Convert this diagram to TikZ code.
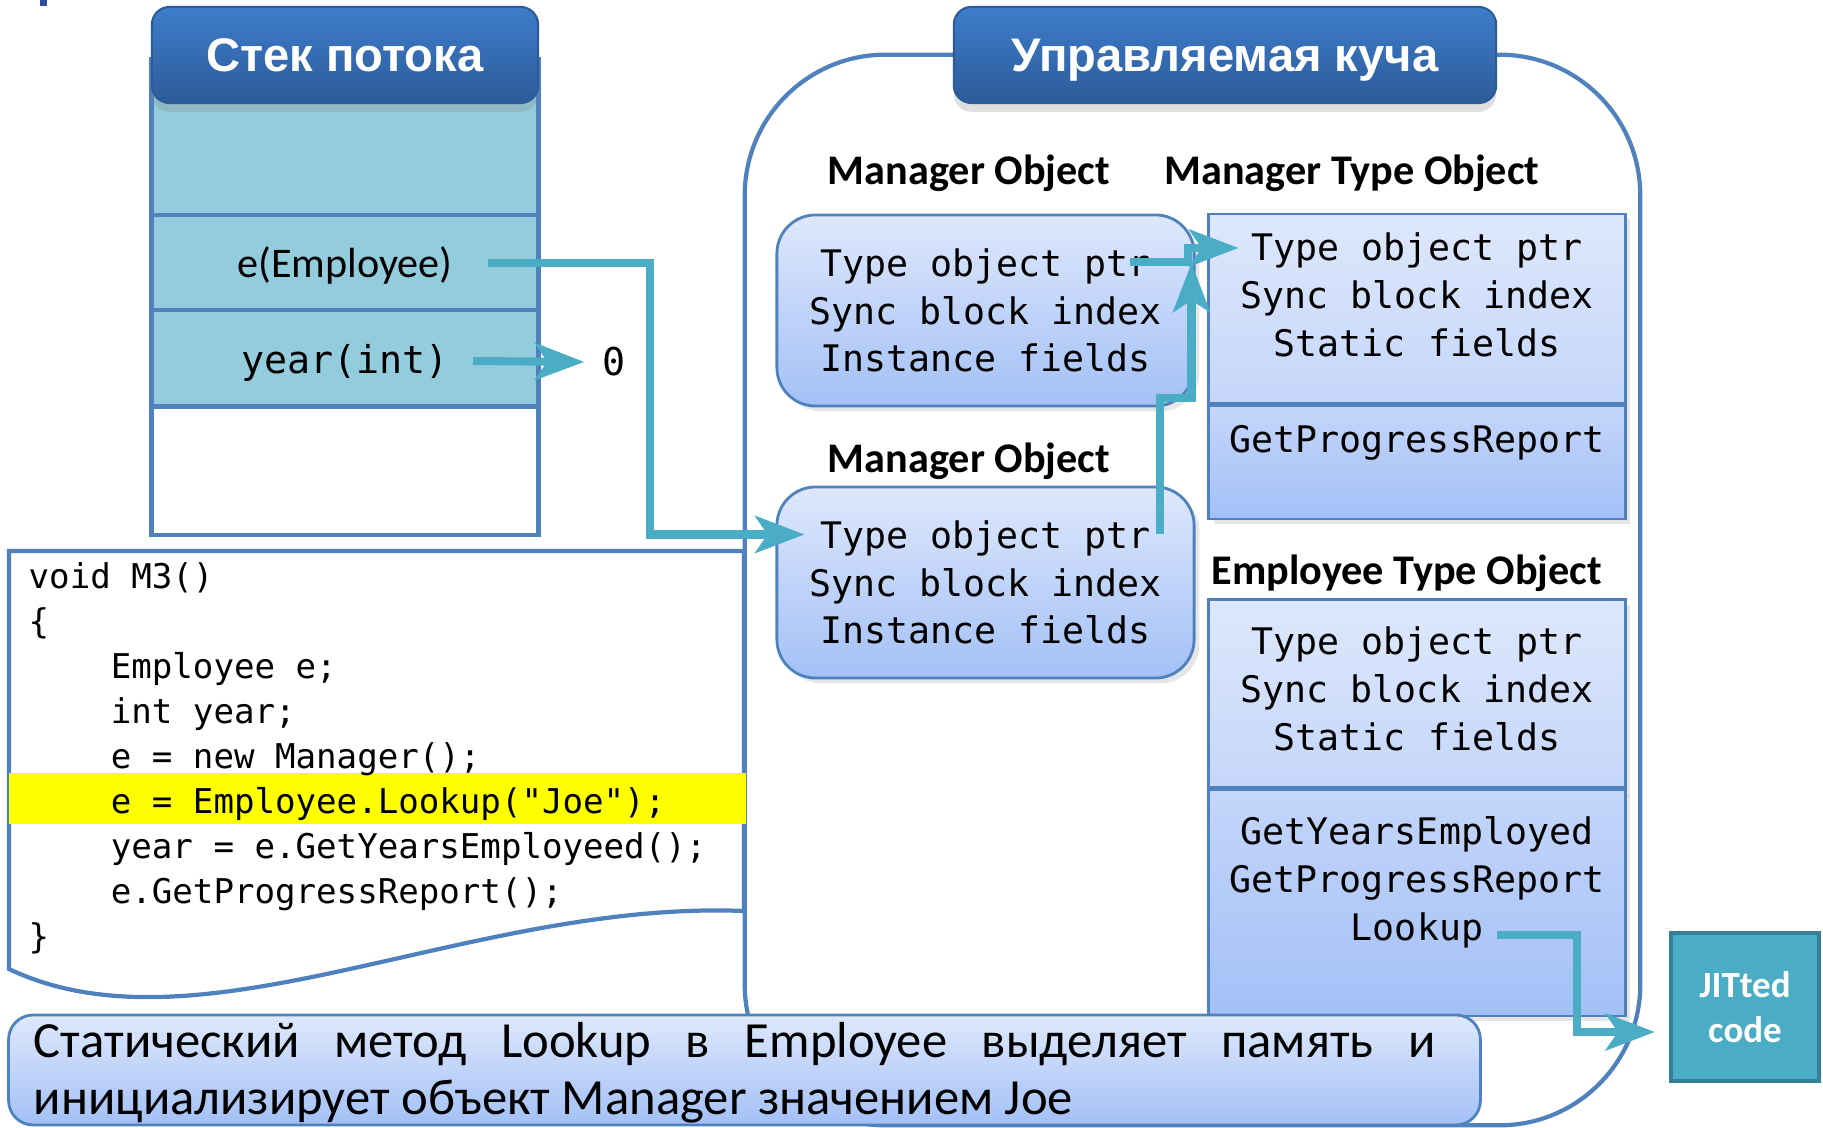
\documentclass[tikz,border=0pt]{standalone}
\usepackage{fontspec}
\setmainfont{Carlito}
\setmonofont{DejaVu Sans Mono}
\newfontfamily\headfont{Liberation Sans}
\usetikzlibrary{arrows.meta, calc, shadows}

\definecolor{frameblue}{RGB}{79,129,189}
\definecolor{stackfill}{RGB}{147,205,221}
\definecolor{ptrteal}{RGB}{75,172,198}
\definecolor{jitframe}{RGB}{52,128,148}
\definecolor{headtop}{RGB}{61,125,202}
\definecolor{headbot}{RGB}{45,91,154}
\definecolor{objtop}{RGB}{222,232,252}
\definecolor{objmid}{RGB}{196,214,250}
\definecolor{objbot}{RGB}{163,192,246}
\definecolor{codemark}{RGB}{255,255,0}
\definecolor{titleblue}{RGB}{43,74,160}

\newcommand{\codeindent}{\phantom{xxxx}}

\tikzset{
  % Blue title bars of stack and heap
  titlebar/.style={
    rectangle, rounded corners=5pt, minimum height=0.96cm, inner sep=0pt,
    top color=headtop, bottom color=headbot, draw=headbot, line width=0.6pt,
    text=white, font=\headfont\bfseries\fontsize{13.4}{16}\selectfont, text depth=0pt,
    drop shadow={shadow xshift=0pt, shadow yshift=-2.5pt, opacity=0.25}
  },
  % One slot of the thread stack (parameterized by fill)
  stackslot/.style={
    rectangle, minimum width=3.86cm, inner sep=0pt, draw=frameblue,
    line width=1.4pt, fill=#1, text depth=0pt
  },
  heapframe/.style={
    rectangle, rounded corners=40pt, minimum width=8.95cm, minimum height=10.70cm,
    draw=frameblue, line width=1.2pt
  },
  % Object on the heap with rounded corners
  objbox/.style={
    rectangle, rounded corners=11pt, minimum width=4.17cm, minimum height=1.91cm,
    inner sep=0pt, top color=objtop, bottom color=objbot, draw=frameblue,
    line width=0.8pt, align=center, font=\ttfamily\fontsize{10.4}{13.6}\selectfont,
    drop shadow={shadow xshift=1.5pt, shadow yshift=-1.5pt, opacity=0.2}
  },
  % Part of a type object (top and bottom shade)
  typebox/.style 2 args={
    rectangle, minimum width=4.16cm, inner sep=0pt, top color=#1, bottom color=#2,
    draw=frameblue, line width=0.8pt,
    drop shadow={shadow xshift=1.5pt, shadow yshift=-1.5pt, opacity=0.2}
  },
  memtext/.style={align=center, inner sep=0pt, font=\ttfamily\fontsize{10.4}{13.6}\selectfont},
  objlabel/.style={anchor=base, inner sep=0pt, font=\bfseries\fontsize{12}{14}\selectfont},
  valtext/.style={font=\ttfamily\fontsize{10.9}{13}\selectfont},
  codetext/.style={align=left, inner sep=0pt, font=\ttfamily\fontsize{9.7}{12.8}\selectfont},
  note/.style={
    rectangle, rounded corners=7pt, minimum width=14.71cm, minimum height=1.10cm,
    top color=objtop, bottom color=objbot, draw=frameblue, line width=0.8pt
  },
  notetext/.style={
    text width=14.01cm, align=justify, inner sep=0pt,
    font=\fontsize{14.4}{16.2}\selectfont
  },
  jitbox/.style={
    rectangle, minimum width=1.48cm, minimum height=1.48cm, fill=ptrteal,
    draw=jitframe, line width=1.2pt, align=center, text=white,
    font=\bfseries\fontsize{10.5}{12.8}\selectfont
  },
  ptrarrow/.style={
    draw=ptrteal, line width=2.3pt, -{Stealth[length=14pt, width=10.5pt, inset=3.5pt]}
  }
}

\begin{document}
\begin{tikzpicture}[x=0.01cm, y=-0.01cm]
  \useasboundingbox (0,0) rectangle (1823,1128);

  % corner of the slide title
  \fill[titleblue] (40,0) rectangle (47,6);

  % --- Managed heap outline (behind everything) ---
  \node[heapframe] (heap) at (1192.5,590) {};

  % --- Thread stack ---
  \node[stackslot=stackfill, minimum height=1.55cm] (slottop) at (345,137.5) {};
  \node[stackslot=stackfill, minimum height=0.95cm, font=\fontsize{12}{14}\selectfont]
    (slote) at (345,262.5) {e(Employee)};
  \node[stackslot=stackfill, minimum height=0.97cm, font=\ttfamily\fontsize{10.9}{13}\selectfont]
    (sloty) at (345,358.5) {year(int)};
  \node[stackslot=white, minimum height=1.28cm] (slotfree) at (345,471) {};
  \node[titlebar, minimum width=3.86cm] (stackhd) at (345,55) {Стек потока};
  \node[valtext, inner xsep=5pt] (zero) at (614,362) {0};

  % --- Method code ---
  \draw[draw=frameblue, line width=1.2pt, fill=white]
    (9,551) -- (744,551) -- (744,911) .. controls (470,900) and (200,1060) .. (9,969) -- cycle;
  \fill[codemark] (9,773) rectangle (746,824);
  \node[codetext, anchor=north west] (code) at (28,556) {\strut void M3()\\
    \{\\
    \codeindent Employee e;\\
    \codeindent int year;\\
    \codeindent e = new Manager();\\
    \codeindent e = Employee.Lookup("Joe");\\
    \codeindent year = e.GetYearsEmployeed();\\
    \codeindent e.GetProgressReport();\\
    \}};

  % --- Heap title ---
  \node[titlebar, minimum width=5.42cm] (heaphd) at (1225,55) {Управляемая куча};

  % --- Manager objects ---
  \node[objlabel] (mgr1lbl) at (969,185) {Manager Object};
  \node[objbox] (mgr1) at (985.5,310.5) {Type object ptr\\Sync block index\\Instance fields};
  \node[objlabel] (mgr2lbl) at (969,473) {Manager Object};
  \node[objbox] (mgr2) at (985.5,582.5) {Type object ptr\\Sync block index\\Instance fields};

  % --- Manager type object ---
  \node[objlabel] (mtlbl) at (1352,185) {Manager Type Object};
  \node[typebox={objtop}{objmid}, minimum height=1.92cm] (mtup) at (1417,310) {};
  \node[typebox={objmid}{objbot}, minimum height=1.13cm] (mtlow) at (1417,462.5) {};
  \draw[frameblue, line width=1.6pt] (mtlow.north west) -- (mtlow.north east);
  \node[memtext] (mttxt) at (1417,295) {Type object ptr\\Sync block index\\Static fields};
  \node[memtext] (mtmeth) at (1417,443) {GetProgressReport};

  % --- Employee type object ---
  \node[objlabel] (etlbl) at (1407,585) {Employee Type Object};
  \node[typebox={objtop}{objmid}, minimum height=1.91cm] (etup) at (1417,695) {};
  \node[typebox={objmid}{objbot}, minimum height=2.26cm] (etlow) at (1417,903) {};
  \draw[frameblue, line width=1.6pt] (etlow.north west) -- (etlow.north east);
  \node[memtext] (ettxt) at (1417,689) {Type object ptr\\Sync block index\\Static fields};
  \node[memtext] (etmeth) at (1417,882) {GetYearsEmployed\\GetProgressReport\\Lookup};

  % --- Note at the bottom ---
  \node[note] (notebox) at (744.5,1070) {};
  \node[notetext, anchor=north west] (notetxt) at (33,1017)
    {\strut Статический метод Lookup в Employee выделяет память и\linebreak
     инициализирует объект Manager значением Joe};

  % --- Compiled code ---
  \node[jitbox] (jit) at (1745,1007) {JITted\\code};

  % --- Pointer ends ---
  \coordinate (yearout) at (473,361);
  \coordinate (eout) at (488,263);
  \coordinate (mgr2in) at ($(mgr2.west)+(29,-48)$);
  \coordinate (mgr1out) at (1130,262);
  \coordinate (mgr2out) at (1160,534);
  \coordinate (mtin) at ($(mtup.west)+(31,-62)$);
  \coordinate (mtbelow) at ($(mtup.west)+(-16,-47)$);
  \coordinate (lookout) at (1497,935);
  \coordinate (jitin) at ($(jit.west)+(-14,25)$);

  % --- Pointers ---
  \draw[ptrarrow] (yearout) -- (zero.west);
  \draw[ptrarrow] (eout) -- ++(162,0) |- (mgr2in);
  \draw[ptrarrow] (mgr1out) -- ++(58,0) |- (mtin);
  \draw[ptrarrow] (mgr2out) -- ++(0,-136) -| (mtbelow);
  \draw[ptrarrow] (lookout) -- ++(80,0) |- (jitin);
\end{tikzpicture}
\end{document}
